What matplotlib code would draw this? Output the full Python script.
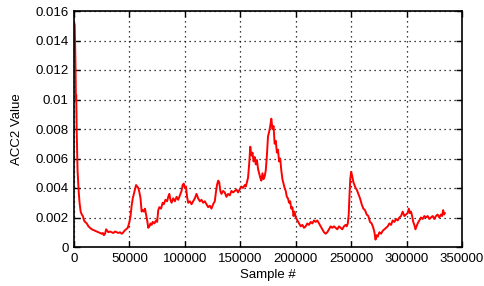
import matplotlib
matplotlib.use('Agg')
import matplotlib.pyplot as plt

# (sample #, ACC2 value)
curve_points = [
    (0, 0.0152), (600, 0.0151), (1000, 0.0138), (1400, 0.0120), (1700, 0.0100),
    (2000, 0.0103), (2400, 0.0080), (2800, 0.0066), (3200, 0.0052), (3700, 0.0045),
    (4200, 0.0038), (5000, 0.0030), (6000, 0.0024), (7000, 0.0022), (8000, 0.0021),
    (9000, 0.0018), (10000, 0.0017), (11500, 0.0016), (13000, 0.0014), (14500, 0.0013),
    (16000, 0.0012), (17500, 0.00115), (19000, 0.0011), (20500, 0.00105), (22000, 0.0010),
    (23500, 0.00095), (25000, 0.0009), (26000, 0.00095), (27000, 0.0008), (28000, 0.0009),
    (29000, 0.0012), (30000, 0.0011), (31000, 0.0010), (32500, 0.00105), (34000, 0.0010),
    (35500, 0.00095), (37000, 0.00105), (38500, 0.0010), (40000, 0.00095), (41500, 0.0010),
    (43000, 0.0009), (44000, 0.00095), (45500, 0.0011), (47000, 0.0012), (48500, 0.0013),
    (50000, 0.0017), (51000, 0.0021), (52000, 0.0028), (53000, 0.0033), (54000, 0.0036),
    (55000, 0.0039), (56000, 0.0042), (57000, 0.0041), (58000, 0.0040), (59000, 0.0037),
    (60000, 0.0033), (61000, 0.0024), (62000, 0.0025), (63000, 0.0024), (64000, 0.0026),
    (65000, 0.0022), (66000, 0.0018), (67000, 0.0013), (68000, 0.0014), (69000, 0.0016),
    (70000, 0.0015), (71000, 0.0017), (72500, 0.0016), (74000, 0.0018), (75000, 0.0017),
    (76000, 0.0025), (77000, 0.0027), (78500, 0.0026), (80000, 0.0030), (81000, 0.0029),
    (82500, 0.0032), (84000, 0.0031), (85000, 0.0034), (86000, 0.0036), (87000, 0.0032),
    (88000, 0.0030), (89500, 0.0033), (91000, 0.0031), (92500, 0.0034), (94000, 0.0032),
    (95500, 0.0035), (97000, 0.0038), (98000, 0.0042), (99000, 0.0043), (100000, 0.0040),
    (101000, 0.0041), (102000, 0.0034), (103000, 0.0030), (104500, 0.0031), (106000, 0.0029),
    (107500, 0.0031), (109000, 0.0033), (110500, 0.0036), (112000, 0.0033), (113500, 0.0031),
    (115000, 0.0032), (116500, 0.0030), (118000, 0.0031), (119500, 0.0029), (121000, 0.0027),
    (122500, 0.0028), (124000, 0.0026), (125500, 0.0029), (127000, 0.0031), (128000, 0.0037),
    (129000, 0.0042), (130000, 0.0045), (131000, 0.0044), (132000, 0.0038), (133000, 0.0036),
    (134500, 0.0038), (136000, 0.0037), (137500, 0.0034), (139000, 0.0036), (140500, 0.0035),
    (142000, 0.0038), (143500, 0.0037), (145000, 0.0038), (146500, 0.0039), (148000, 0.0037),
    (149500, 0.0039), (151000, 0.0041), (152500, 0.0040), (154000, 0.0042), (155000, 0.0041),
    (156000, 0.0044), (157000, 0.0047), (158000, 0.0056), (159000, 0.0068), (160000, 0.0062),
    (161000, 0.0064), (162000, 0.0058), (163000, 0.0061), (164000, 0.0056), (165000, 0.0059),
    (166000, 0.0053), (167000, 0.0050), (168000, 0.0047), (169000, 0.0045), (170000, 0.0050),
    (171000, 0.0046), (172000, 0.0048), (173000, 0.0052), (174000, 0.0062), (175000, 0.0075),
    (176000, 0.0078), (177000, 0.0082), (178000, 0.0087), (179000, 0.0080), (180000, 0.0082),
    (181000, 0.0070), (182000, 0.0072), (183000, 0.0064), (184000, 0.0066), (185000, 0.0058),
    (186000, 0.0060), (187000, 0.0052), (188000, 0.0046), (189000, 0.0043), (190000, 0.0040),
    (191000, 0.0038), (192000, 0.0034), (193000, 0.0033), (194000, 0.0030), (195000, 0.0031),
    (196000, 0.0026), (197000, 0.0027), (198000, 0.0021), (199000, 0.0024), (200000, 0.0020),
    (201500, 0.0018), (203000, 0.0016), (204500, 0.0014), (206000, 0.0015), (207500, 0.0013),
    (209000, 0.0014), (210500, 0.0016), (212000, 0.0015), (213500, 0.0017), (215000, 0.0016),
    (216500, 0.0018), (218000, 0.0017), (219500, 0.0018), (221000, 0.0016), (222500, 0.0014),
    (224000, 0.0012), (225500, 0.0010), (227000, 0.0009), (228500, 0.0010), (230000, 0.0012),
    (231500, 0.0014), (233000, 0.0013), (234500, 0.0014), (236000, 0.0013), (237500, 0.0012),
    (239000, 0.0014), (240500, 0.0013), (242000, 0.0012), (243500, 0.0014), (245000, 0.0015),
    (246000, 0.0014), (247000, 0.0016), (247800, 0.0022), (248500, 0.0035), (249200, 0.0046),
    (250000, 0.0051), (251000, 0.0048), (252000, 0.0044), (253000, 0.0042), (254000, 0.0040),
    (255000, 0.0039), (256500, 0.0036), (258000, 0.0033), (259500, 0.0029), (261000, 0.0026),
    (262500, 0.0025), (264000, 0.0022), (265500, 0.0021), (267000, 0.0017), (268500, 0.0016),
    (270000, 0.0013), (271000, 0.0010), (272000, 0.0005), (273000, 0.0008), (274000, 0.0007),
    (275500, 0.0010), (277000, 0.0009), (278500, 0.0011), (280000, 0.0012), (281500, 0.0013),
    (283000, 0.0014), (284500, 0.0016), (286000, 0.0015), (287500, 0.0018), (289000, 0.0017),
    (290500, 0.0019), (292000, 0.0018), (293500, 0.0020), (295000, 0.0021), (296500, 0.0024),
    (298000, 0.0021), (299500, 0.0022), (301000, 0.0023), (302000, 0.0026), (303000, 0.0023),
    (304000, 0.0024), (305000, 0.0021), (306000, 0.0017), (307000, 0.0015), (308000, 0.0012),
    (309000, 0.0014), (310000, 0.0016), (311500, 0.0018), (313000, 0.0020), (314500, 0.0019),
    (316000, 0.0021), (317500, 0.0020), (319000, 0.0021), (320500, 0.0019), (322000, 0.0020),
    (323500, 0.0021), (325000, 0.0019), (326500, 0.0021), (328000, 0.0022), (329500, 0.0020),
    (331000, 0.0022), (332000, 0.0021), (333000, 0.0025), (333800, 0.0022), (334500, 0.0023),
]
samples = [p[0] for p in curve_points]
acc2 = [p[1] for p in curve_points]

x_ticks = [0, 50000, 100000, 150000, 200000, 250000, 300000, 350000]
y_ticks = [0, 0.002, 0.004, 0.006, 0.008, 0.01, 0.012, 0.014, 0.016]
y_labels = ['0', '0.002', '0.004', '0.006', '0.008', '0.01', '0.012', '0.014', '0.016']

plt.rcParams['font.family'] = ['Liberation Sans', 'DejaVu Sans']
plt.rcParams['font.size'] = 9.5

fig = plt.figure(figsize=(4.84, 2.86), dpi=100)
ax = fig.add_axes([74 / 484, 1 - 247 / 286, 388 / 484, 236 / 286])

ax.plot(samples, acc2, color='#ff0000', linewidth=1.4)

ax.set_xlim(0, 350000)
ax.set_ylim(0, 0.016)
ax.set_xticks(x_ticks)
ax.set_xticklabels([str(t) for t in x_ticks])
ax.set_yticks(y_ticks)
ax.set_yticklabels(y_labels)

ax.grid(True, color='black', linestyle=(0, (1, 3)), linewidth=0.9)
ax.tick_params(direction='in', length=4, width=1, top=True, right=True, pad=4)
for s in ax.spines.values():
    s.set_linewidth(1.2)

ax.set_xlabel('Sample #', labelpad=3)
ax.set_ylabel('ACC2 Value', labelpad=9)

fig.savefig('out.png', dpi=100)
